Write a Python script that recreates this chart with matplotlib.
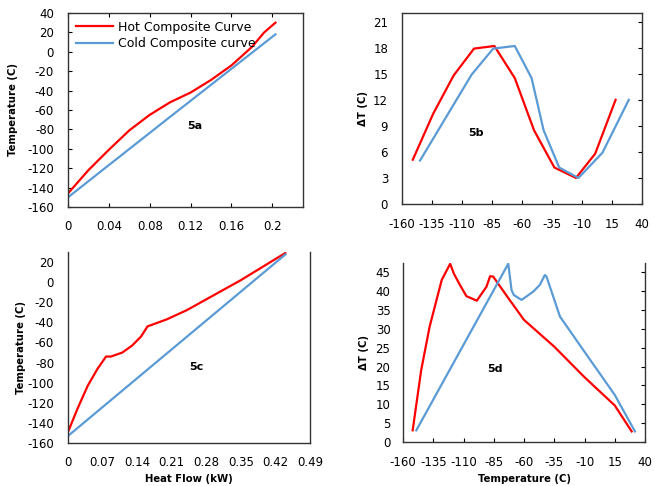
import matplotlib
matplotlib.use("Agg")
import matplotlib.pyplot as plt
import numpy as np

plt.rcParams['font.family'] = ['DejaVu Sans']
plt.rcParams['axes.unicode_minus'] = False

RED = '#ff0000'
BLUE = '#5b9bd5'

# 5a - composite curves (heat flow vs temperature)
a_hot_q = [0, 0.02, 0.04, 0.06, 0.08, 0.10, 0.12, 0.14, 0.16, 0.18, 0.192, 0.203]
a_hot_t = [-146, -122, -101, -81, -65, -52, -42, -29, -14, 5, 20, 30]
a_cold_q = [0, 0.10, 0.203]
a_cold_t = [-150, -67, 18]

# 5b - delta T vs temperature
b_hot_x = [-151, -134, -117, -100, -83, -66, -50, -33, -15, 1, 18]
b_hot_y = [5.1, 10.4, 14.8, 17.9, 18.2, 14.5, 8.5, 4.2, 3.0, 5.8, 12.0]
b_cold_x = [-145, -102, -84, -66, -52, -42, -29, -13, 7, 29]
b_cold_y = [5.0, 14.9, 17.9, 18.2, 14.5, 8.5, 4.2, 3.0, 5.9, 12.0]

# 5c - composite curves
c_hot_q = [0, 0.02, 0.04, 0.06, 0.077, 0.087, 0.11, 0.13, 0.148, 0.161, 0.20, 0.24, 0.35, 0.44]
c_hot_t = [-149, -125, -103, -86, -74, -74, -70, -63, -54, -44, -37, -28, 2, 29]
c_cold_q = [0, 0.44]
c_cold_t = [-153, 27.5]

# 5d - delta T vs temperature
d_hot_x = [-152, -145, -138, -128, -121, -118, -113, -107.6, -99, -91, -88, -85.5,
           -73, -60, -35, -10, 15, 29]
d_hot_y = [3.1, 19, 30.6, 43, 47.3, 44.7, 41.7, 38.7, 37.5, 41.2, 44, 43.9,
           38.2, 32.4, 25.3, 17.2, 9.7, 2.8]
d_cold_x = [-149, -73, -70.3, -68.4, -62, -52.4, -46.9, -42.8, -41.4, -30.3, -11, 15, 31.7]
d_cold_y = [3.1, 47.3, 40.3, 39, 37.7, 39.9, 41.7, 44.3, 43.9, 33.3, 24.4, 12.5, 2.8]

W, H = 655, 486
fig = plt.figure(figsize=(W / 100, H / 100), dpi=100)


def box(l, r, t, b):
    return [l / W, 1 - b / H, (r - l) / W, (b - t) / H]


ax_a = fig.add_axes(box(68, 303, 13, 207))
ax_b = fig.add_axes(box(402, 642, 13, 204))
ax_c = fig.add_axes(box(68, 310, 252, 443))
ax_d = fig.add_axes(box(403, 645, 263, 442))

lw = 1.6
tick_fs = 8.5
lab_fs = 7.3

# 5a
ax_a.plot(a_hot_q, a_hot_t, color=RED, lw=lw, label='Hot Composite Curve')
ax_a.plot(a_cold_q, a_cold_t, color=BLUE, lw=lw, label='Cold Composite curve')
ax_a.set_xlim(0, 0.23)
ax_a.set_ylim(-160, 40)
ax_a.set_xticks(np.arange(0, 0.21, 0.04))
ax_a.set_xticklabels(['0', '0.04', '0.08', '0.12', '0.16', '0.2'])
ax_a.set_yticks(np.arange(-160, 41, 20))
ax_a.tick_params(direction='in', top=True, labelsize=tick_fs, length=3)
ax_a.tick_params(axis='y', pad=10)
ax_a.tick_params(axis='x', pad=9)
ax_a.set_ylabel('Temperature (C)', fontsize=lab_fs, fontweight='bold', labelpad=7)
ax_a.legend(loc='upper left', fontsize=9, frameon=False, handlelength=3.0,
            borderaxespad=0.2, labelspacing=0.3, handletextpad=0.4)
ax_a.text(0.54, 0.42, '5a', transform=ax_a.transAxes, fontsize=8, fontweight='bold',
          ha='center', va='center')

# 5b
ax_b.plot(b_hot_x, b_hot_y, color=RED, lw=lw)
ax_b.plot(b_cold_x, b_cold_y, color=BLUE, lw=lw)
ax_b.set_xlim(-160, 40)
ax_b.set_ylim(0, 22)
ax_b.set_xticks(np.arange(-160, 41, 25))
ax_b.set_yticks(np.arange(0, 22, 3))
ax_b.tick_params(direction='in', right=True, left=False, labelsize=tick_fs, length=3)
ax_b.tick_params(axis='y', pad=10)
ax_b.tick_params(axis='x', pad=10)
ax_b.set_ylabel('ΔT (C)', fontsize=lab_fs, fontweight='bold', labelpad=4)
ax_b.text(0.31, 0.37, '5b', transform=ax_b.transAxes, fontsize=8, fontweight='bold',
          ha='center', va='center')

# 5c
ax_c.plot(c_hot_q, c_hot_t, color=RED, lw=lw)
ax_c.plot(c_cold_q, c_cold_t, color=BLUE, lw=lw)
ax_c.set_xlim(0, 0.49)
ax_c.set_ylim(-160, 30)
ax_c.set_xticks(np.arange(0, 0.50, 0.07))
ax_c.set_xticklabels(['0', '0.07', '0.14', '0.21', '0.28', '0.35', '0.42', '0.49'])
ax_c.set_yticks(np.arange(-160, 21, 20))
ax_c.spines['top'].set_visible(False)
ax_c.tick_params(direction='in', labelsize=tick_fs, length=0)
ax_c.tick_params(axis='y', pad=10)
ax_c.tick_params(axis='x', pad=9)
ax_c.set_ylabel('Temperature (C)', fontsize=lab_fs, fontweight='bold', labelpad=1)
ax_c.set_xlabel('Heat Flow (kW)', fontsize=lab_fs, fontweight='bold', labelpad=4)
ax_c.text(0.53, 0.4, '5c', transform=ax_c.transAxes, fontsize=8, fontweight='bold',
          ha='center', va='center')

# 5d
ax_d.plot(d_hot_x, d_hot_y, color=RED, lw=lw)
ax_d.plot(d_cold_x, d_cold_y, color=BLUE, lw=lw)
ax_d.set_xlim(-160, 40)
ax_d.set_ylim(0, 47.5)
ax_d.set_xticks(np.arange(-160, 41, 25))
ax_d.set_yticks(np.arange(0, 46, 5))
ax_d.spines['top'].set_visible(False)
ax_d.tick_params(direction='in', right=True, left=False, labelsize=tick_fs, length=3)
ax_d.tick_params(axis='y', pad=9)
ax_d.tick_params(axis='x', pad=10)
ax_d.set_ylabel('ΔT (C)', fontsize=lab_fs, fontweight='bold', labelpad=5)
ax_d.set_xlabel('Temperature (C)', fontsize=lab_fs, fontweight='bold', labelpad=4)
ax_d.text(0.38, 0.41, '5d', transform=ax_d.transAxes, fontsize=8, fontweight='bold',
          ha='center', va='center')

for ax in (ax_a, ax_b, ax_c, ax_d):
    for s in ax.spines.values():
        s.set_color('#333333')
        s.set_linewidth(1.0)

fig.savefig('out.png', dpi=100)
